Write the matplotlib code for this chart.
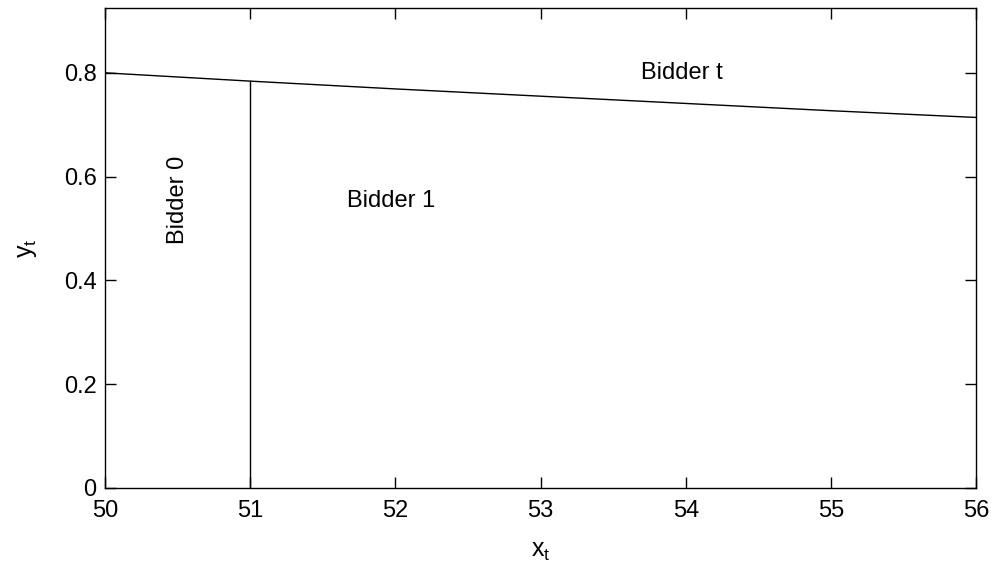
import matplotlib
matplotlib.use("Agg")
import matplotlib.pyplot as plt

# boundary between bidder regions
x_vals = [50, 51, 52, 53, 54, 55, 56]
y_vals = [0.800, 0.784, 0.769, 0.755, 0.741, 0.727, 0.714]

# vertical split at x = 51
split_x = [51, 51]
split_y = [0, 0.784]

xticks = [50, 51, 52, 53, 54, 55, 56]
yticks = [0, 0.2, 0.4, 0.6, 0.8]
ytick_labels = ["0", "0.2", "0.4", "0.6", "0.8"]

plt.rcParams['font.family'] = ['Liberation Sans', 'DejaVu Sans']

fig = plt.figure(figsize=(9.91, 5.69), dpi=100)
ax = fig.add_axes([0.106, 0.1424, 0.879, 0.8436])

ax.plot(x_vals, y_vals, color='black', lw=1.0)
ax.plot(split_x, split_y, color='black', lw=1.0)

ax.text(53.69, 0.80, "Bidder t", fontsize=17, va='center', ha='left')
ax.text(51.67, 0.553, "Bidder 1", fontsize=17, va='center', ha='left')
ax.text(50.5, 0.555, "Bidder 0", fontsize=17, va='center', ha='center', rotation=90)

ax.set_xlim(50, 56)
ax.set_ylim(0, 0.925)
ax.set_xticks(xticks)
ax.set_yticks(yticks)
ax.set_yticklabels(ytick_labels)
ax.tick_params(direction='in', top=True, right=True, labelsize=17, length=8, width=1)
ax.tick_params(axis='x', pad=9)
ax.tick_params(axis='y', pad=6)
for s in ax.spines.values():
    s.set_linewidth(1.0)

ax.set_xlabel("$\\mathregular{x_t}$", fontsize=18, labelpad=12)
ax.set_ylabel("$\\mathregular{y_t}$", fontsize=18, labelpad=18)

fig.savefig("out.png", dpi=100)
